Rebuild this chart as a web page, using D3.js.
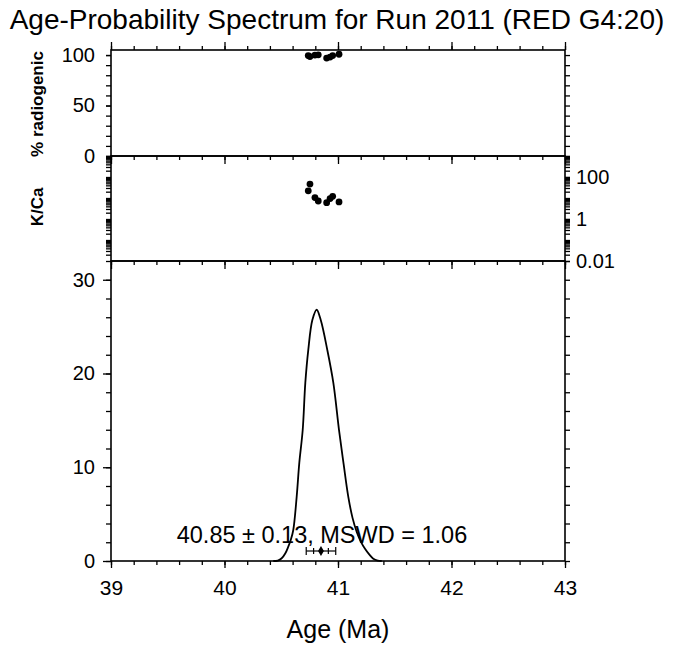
<!DOCTYPE html>
<html>
<head>
<meta charset="utf-8">
<script src="https://cdn.jsdelivr.net/npm/d3@7"></script>
<style>
  body { margin: 0; background: #fff; }
  svg text { font-family: "Liberation Sans", Arial, Helvetica, sans-serif; fill: #000; }
</style>
</head>
<body>
<div id="chart"></div>
<script>
// step data
var ages = [40.738, 40.753, 40.797, 40.826, 40.900, 40.930, 40.953, 41.009];
var radiogenic = [99.5, 98.5, 100, 100.2, 97, 98, 99.5, 100.8];
var kca = [22, 46, 10.5, 7.2, 6.0, 9.4, 12.0, 6.5];

// probability curve
var curveAge  = [40.43, 40.47, 40.504, 40.535, 40.562, 40.585, 40.606, 40.636, 40.659, 40.689, 40.712, 40.738, 40.774, 40.812, 40.848, 40.906, 40.959, 41.009, 41.050, 41.090, 41.128, 41.165, 41.200, 41.238, 41.275, 41.311, 41.35, 41.385];
var curveProb = [0, 0.05, 0.29, 0.8, 1.53, 2.3, 3.31, 6.86, 10.46, 13.97, 19.0, 22.5, 25.7, 26.8, 25.7, 22.5, 19.0, 13.97, 10.3, 6.9, 4.6, 3.1, 2.1, 1.3, 0.7, 0.25, 0.05, 0];

var meanAge = 40.85, meanErr = 0.13, mswd = 1.06;

var xTicksMajor = [39, 40, 41, 42, 43];
var radTicks = [0, 50, 100];
var kcaLabels = [100, 1, 0.01];
var probTicks = [0, 10, 20, 30];

var W = 677, H = 647;
var left = 111, right = 565;
var svg = d3.select("#chart").append("svg")
    .attr("width", W).attr("height", H);

var x = d3.scaleLinear().domain([39, 43]).range([left, right]);
var yR = d3.scaleLinear().domain([0, 105]).range([156, 50]);
var yK = d3.scaleLog().domain([0.01, 1000]).range([261, 156]);
var yP = d3.scaleLinear().domain([0, 32]).range([561, 261]);

function clean(g) {
  g.select(".domain").remove();
  g.selectAll(".tick line").attr("stroke", "#000").attr("stroke-width", 1.3);
  g.selectAll("text").attr("font-size", 20);
}

// x ticks: top of the first panel (outward), tops of the other panels (inward), bottom (outward)
var minorX = x.ticks(20);
[["top", 50], ["bottom", 156], ["bottom", 261], ["bottom", 561]].forEach(function (p, i) {
  var mk = p[0] == "top" ? d3.axisTop : d3.axisBottom;
  svg.append("g").attr("transform", "translate(0," + p[1] + ")")
    .call(mk(x).tickValues(minorX).tickSize(4).tickFormat(""))
    .call(clean);
  var maj = svg.append("g").attr("transform", "translate(0," + p[1] + ")")
    .call(mk(x).tickValues(xTicksMajor).tickSize(i == 3 ? 7 : 8)
      .tickFormat(i == 3 ? d3.format("d") : ""))
    .call(clean);
  if (i == 3) maj.selectAll("text").attr("y", 34).attr("dy", 0).attr("font-size", 21);
});

// % radiogenic panel
svg.append("g").attr("transform", "translate(" + left + ",0)")
  .call(d3.axisLeft(yR).tickValues(d3.range(0, 101, 10)).tickSize(5).tickFormat(""))
  .call(clean);
svg.append("g").attr("transform", "translate(" + left + ",0)")
  .call(d3.axisLeft(yR).tickValues(radTicks).tickSize(5).tickPadding(11))
  .call(clean);
svg.append("g").attr("transform", "translate(" + right + ",0)")
  .call(d3.axisRight(yR).tickValues(d3.range(0, 101, 10)).tickSize(5).tickFormat(""))
  .call(clean);

// K/Ca panel (log)
var logTicks = yK.ticks();
svg.append("g").attr("transform", "translate(" + left + ",0)")
  .call(d3.axisLeft(yK).tickValues(logTicks).tickSize(5).tickFormat(""))
  .call(clean);
svg.append("g").attr("transform", "translate(" + right + ",0)")
  .call(d3.axisRight(yK).tickValues(logTicks).tickSize(5).tickFormat(""))
  .call(clean);
svg.append("g").attr("transform", "translate(" + right + ",0)")
  .call(d3.axisRight(yK).tickValues(kcaLabels).tickSize(5).tickPadding(6)
    .tickFormat(function (d) { return d < 1 ? "0.01" : d3.format("d")(d); }))
  .call(clean);

// probability panel
svg.append("g").attr("transform", "translate(" + left + ",0)")
  .call(d3.axisLeft(yP).tickValues(d3.range(0, 31, 2)).tickSize(5).tickFormat(""))
  .call(clean);
svg.append("g").attr("transform", "translate(" + left + ",0)")
  .call(d3.axisLeft(yP).tickValues(probTicks).tickSize(8).tickPadding(8))
  .call(clean);
svg.append("g").attr("transform", "translate(" + right + ",0)")
  .call(d3.axisRight(yP).tickValues(d3.range(0, 31, 2)).tickSize(5).tickFormat(""))
  .call(clean);

// panel frames
[[50, 156], [156, 261], [261, 561]].forEach(function (r) {
  svg.append("rect")
    .attr("x", left).attr("y", r[0])
    .attr("width", right - left).attr("height", r[1] - r[0])
    .attr("fill", "none").attr("stroke", "#000").attr("stroke-width", 1.6);
});

// dots
svg.append("g").selectAll("circle")
  .data(ages).enter().append("circle")
    .attr("cx", function (d) { return x(d); })
    .attr("cy", function (d, i) { return yR(radiogenic[i]); })
    .attr("r", 3.4).attr("fill", "#000");
svg.append("g").selectAll("circle")
  .data(ages).enter().append("circle")
    .attr("cx", function (d) { return x(d); })
    .attr("cy", function (d, i) { return yK(kca[i]); })
    .attr("r", 3.4).attr("fill", "#000");

// probability curve
var line = d3.line()
  .x(function (d, i) { return x(curveAge[i]); })
  .y(function (d) { return yP(d); })
  .curve(d3.curveCatmullRom.alpha(0.5));
svg.append("path")
  .datum(curveProb)
  .attr("d", line)
  .attr("fill", "none").attr("stroke", "#000").attr("stroke-width", 1.8);

// weighted mean with error bar
var my = 551;
var eb = svg.append("g").attr("stroke", "#000").attr("stroke-width", 1.2);
eb.append("line").attr("x1", x(meanAge - meanErr)).attr("x2", x(meanAge + meanErr))
  .attr("y1", my).attr("y2", my);
[meanAge - meanErr, meanAge - meanErr / 2, meanAge + meanErr / 2, meanAge + meanErr].forEach(function (v, i) {
  var h = (i == 0 || i == 3) ? 4 : 3;
  eb.append("line").attr("x1", x(v)).attr("x2", x(v)).attr("y1", my - h).attr("y2", my + h);
});
svg.append("path")
  .attr("d", d3.symbol().type(d3.symbolDiamond).size(30)())
  .attr("transform", "translate(" + x(meanAge) + "," + my + ")")
  .attr("fill", "#000");

svg.append("text")
  .attr("x", x(meanAge) + 1).attr("y", 543)
  .attr("text-anchor", "middle").attr("font-size", 23.5)
  .text(meanAge.toFixed(2) + " \u00b1 " + meanErr.toFixed(2) + ", MSWD = " + mswd.toFixed(2));

// titles and labels
svg.append("text")
  .attr("x", 337).attr("y", 29)
  .attr("text-anchor", "middle").attr("font-size", 28)
  .text("Age-Probability Spectrum for Run 2011 (RED G4:20)");

svg.append("text")
  .attr("x", 338).attr("y", 638)
  .attr("text-anchor", "middle").attr("font-size", 25)
  .text("Age (Ma)");

svg.append("text")
  .attr("transform", "translate(43,104) rotate(-90)")
  .attr("text-anchor", "middle").attr("font-size", 17).attr("font-weight", "bold")
  .text("% radiogenic");

svg.append("text")
  .attr("transform", "translate(43,207) rotate(-90)")
  .attr("text-anchor", "middle").attr("font-size", 17).attr("font-weight", "bold")
  .text("K/Ca");
</script>
</body>
</html>
